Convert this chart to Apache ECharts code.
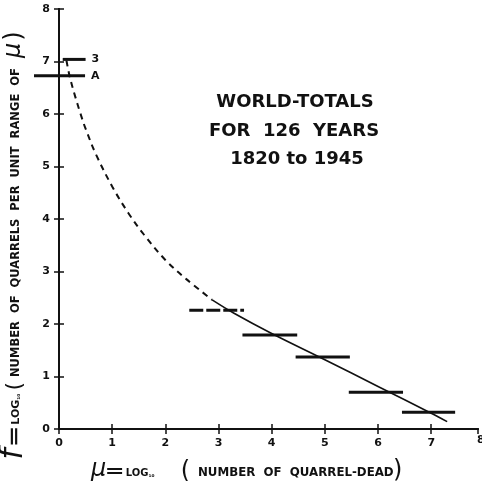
<!DOCTYPE html>
<html>
<head>
<meta charset="utf-8">
<script src="https://cdn.jsdelivr.net/npm/echarts@6/dist/echarts.min.js"></script>
<style>html,body{margin:0;padding:0;background:#fff}#c{width:482px;height:481px}</style>
</head>
<body>
<div id="c"></div>
<script>
// ---- data ----
var xTicks = [0, 1, 2, 3, 4, 5, 6, 7];
var yTicks = [0, 1, 2, 3, 4, 5, 6, 7, 8];
// horizontal bars: f per unit range of mu
var barStart = [2.45, 3.45, 4.45, 5.45, 6.45];
var barEnd   = [3.48, 4.48, 5.47, 6.47, 7.45];
var barF     = [2.26, 1.79, 1.37, 0.70, 0.32];
// the two short bars at the top-left
var barB = { start: 0.07, end: 0.50, f: 7.04, label: '3' };
var barA = { start: -0.47, end: 0.49, f: 6.73, label: 'A' };
// fitted curve, dashed (extrapolated) and solid parts
var curveDashed = [[0.14,7.02],[0.2,6.72],[0.3,6.35],[0.4,6.02],[0.5,5.72],[0.7,5.22],[1.0,4.62],[1.3,4.12],[1.6,3.70],[2.0,3.22],[2.4,2.85],[2.88,2.46]];
var curveSolid = [[2.88,2.46],[3.3,2.20],[4.0,1.82],[5.0,1.32],[6.0,0.81],[7.0,0.30],[7.3,0.14]];
var titleLines = ['WORLD-TOTALS', 'FOR  126  YEARS', '1820 to 1945'];

var chart = echarts.init(document.getElementById('c'));
var font = 'DejaVu Sans';
var ink = '#111';
var xMax = 7.88;
var gridL = 59, gridR = 4, gridT = 9, gridB = 52;
var pxPerUnit = (482 - gridL - gridR) / xMax;
var extMin = -0.5;

function segSeries(x0, x1, y, opts) {
  opts = opts || {};
  var s = {
    type: 'line', data: [[x0, y], [x1, y]], showSymbol: false, symbol: 'none',
    clip: false, silent: true, z: 3,
    xAxisIndex: opts.ext ? 2 : 0, yAxisIndex: opts.ext ? 2 : 0,
    lineStyle: { color: ink, width: 3, type: opts.dash || 'solid', cap: 'butt' }
  };
  if (opts.label) {
    s.endLabel = { show: true, distance: 6, formatter: opts.label,
      color: ink, fontFamily: font, fontWeight: 'bold', fontSize: 11 };
  }
  return s;
}

var series = [];
for (var i = 0; i < barF.length; i++) {
  series.push(segSeries(barStart[i], barEnd[i], barF[i], i === 0 ? { dash: [14, 3] } : {}));
}
series.push(segSeries(barB.start, barB.end, barB.f, { label: barB.label }));
series.push(segSeries(barA.start, barA.end, barA.f, { label: barA.label, ext: true }));
series.push({
  type: 'line', data: curveDashed, smooth: 0.35, symbol: 'none', clip: false, silent: true,
  lineStyle: { color: ink, width: 2, type: [6, 5] }
});
series.push({
  type: 'line', data: curveSolid, smooth: 0.35, symbol: 'none', clip: false, silent: true,
  lineStyle: { color: ink, width: 1.6 }
});

var labelStyle = { color: ink, fontFamily: font, fontWeight: 'bold', fontSize: 11 };
var axisLine = { show: true, lineStyle: { color: ink, width: 2 } };
var tickIn = { show: true, inside: true, length: 5, lineStyle: { color: ink, width: 1.5 } };

var option = {
  animation: false,
  backgroundColor: '#fff',
  grid: [
    { left: gridL, right: gridR, top: gridT, bottom: gridB },
    { left: gridL + extMin * pxPerUnit, right: gridR, top: gridT, bottom: gridB }
  ],
  xAxis: [{
    type: 'value', min: 0, max: xMax, interval: 1, position: 'bottom', gridIndex: 0,
    axisLine: axisLine, axisTick: tickIn, splitLine: { show: false },
    axisLabel: Object.assign({ margin: 9, showMaxLabel: false,
      formatter: function (v) { return xTicks.indexOf(v) >= 0 ? String(v) : ''; } }, labelStyle)
  }, {
    type: 'value', min: 0, max: xMax, interval: 1, position: 'top', gridIndex: 0,
    axisLine: axisLine, axisTick: tickIn, splitLine: { show: false }, axisLabel: { show: false }
  }, {
    type: 'value', min: extMin, max: xMax, gridIndex: 1, show: false
  }],
  yAxis: [{
    type: 'value', min: 0, max: 8, interval: 1, position: 'left', gridIndex: 0,
    axisLine: axisLine, axisTick: tickIn, splitLine: { show: false },
    axisLabel: Object.assign({ margin: 9,
      formatter: function (v) { return yTicks.indexOf(v) >= 0 ? String(v) : ''; } }, labelStyle)
  }, {
    type: 'value', min: 0, max: 8, interval: 1, position: 'right', gridIndex: 0,
    axisLine: axisLine, axisTick: tickIn, splitLine: { show: false }, axisLabel: { show: false }
  }, {
    type: 'value', min: 0, max: 8, gridIndex: 1, show: false
  }],
  series: series,
  graphic: [
    { type: 'text', left: 477, top: 435, style: { text: '8', fill: ink, font: 'bold 11px ' + font } },
    { type: 'text', x: 295, y: 102, style: { text: titleLines[0], fill: ink, font: 'bold 18px ' + font, textAlign: 'center', textVerticalAlign: 'middle' } },
    { type: 'text', x: 294, y: 131, style: { text: titleLines[1], fill: ink, font: 'bold 18px ' + font, textAlign: 'center', textVerticalAlign: 'middle' } },
    { type: 'text', x: 297, y: 159, style: { text: titleLines[2], fill: ink, font: 'bold 18px ' + font, textAlign: 'center', textVerticalAlign: 'middle' } },
    // x-axis title pieces
    { type: 'text', x: 190, y: 473, style: {
        text: '{g|μ}{e|═}{s|LOG}{sub|₁₀}{p|(}', textAlign: 'right', textVerticalAlign: 'middle',
        rich: {
          g: { fontFamily: font, fontSize: 24, fill: ink, fontStyle: 'italic', padding: [0, 1, 6, 0] },
          e: { fontFamily: font, fontSize: 24, fill: ink, fontWeight: 'bold', padding: [0, 4, 0, 0] },
          s: { fontFamily: font, fontSize: 10, fill: ink, fontWeight: 'bold' },
          sub: { fontFamily: font, fontSize: 7, fill: ink, fontWeight: 'bold', padding: [5, 26, 0, 0] },
          p: { fontFamily: font, fontSize: 24, fill: ink, padding: [0, 0, 2, 0] }
        } } },
    { type: 'text', x: 198, y: 473, style: { text: 'NUMBER  OF  QUARREL-DEAD', fill: ink,
        font: 'bold 11.8px ' + font, textAlign: 'left', textVerticalAlign: 'middle' } },
    { type: 'text', x: 393, y: 471, style: { text: ')', fill: ink,
        font: '24px ' + font, textAlign: 'left', textVerticalAlign: 'middle' } },
    // y-axis title pieces (rotated, read bottom to top)
    { type: 'text', x: 16, y: 382, rotation: Math.PI / 2, style: {
        text: '{g|f}{e|═}{s|LOG}{sub|₁₀}{p|(}', textAlign: 'right', textVerticalAlign: 'middle',
        rich: {
          g: { fontFamily: font, fontSize: 32, fill: ink, fontStyle: 'italic', padding: [0, 4, 4, 8] },
          e: { fontFamily: font, fontSize: 26, fill: ink, fontWeight: 'bold', padding: [0, 4, 0, 0] },
          s: { fontFamily: font, fontSize: 11, fill: ink, fontWeight: 'bold' },
          sub: { fontFamily: font, fontSize: 7, fill: ink, fontWeight: 'bold', padding: [5, 3, 0, 0] },
          p: { fontFamily: font, fontSize: 22, fill: ink, padding: [0, 0, 2, 0] }
        } } },
    { type: 'text', x: 16, y: 377, rotation: Math.PI / 2, style: { text: 'NUMBER  OF  QUARRELS  PER  UNIT  RANGE  OF', fill: ink,
        font: 'bold 11.5px ' + font, textAlign: 'left', textVerticalAlign: 'middle' } },
    { type: 'text', x: 16, y: 58, rotation: Math.PI / 2, style: {
        text: '{g|μ}{p|)}', textAlign: 'left', textVerticalAlign: 'middle',
        rich: {
          g: { fontFamily: font, fontSize: 24, fill: ink, fontStyle: 'italic', padding: [0, 2, 4, 0] },
          p: { fontFamily: font, fontSize: 24, fill: ink, padding: [0, 0, 2, 0] }
        } } }
  ]
};
chart.setOption(option);
</script>
</body>
</html>
